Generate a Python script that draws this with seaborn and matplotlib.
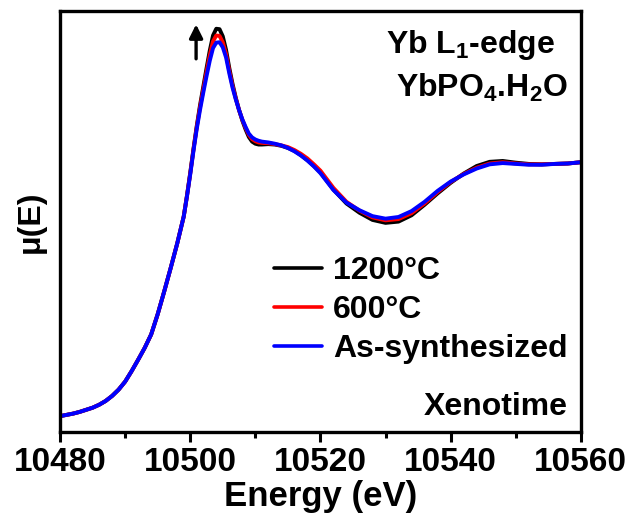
import numpy as np
import pandas as pd
import matplotlib
matplotlib.use('Agg')
import matplotlib.pyplot as plt
import seaborn as sns
from matplotlib.ticker import MultipleLocator

# energy grid (eV)
energy = [10480, 10481, 10482, 10483, 10484, 10485, 10486, 10487, 10488, 10489,
          10490, 10491, 10492, 10493, 10494, 10495, 10496, 10497, 10498, 10499,
          10499.5, 10500, 10500.5, 10501, 10501.5, 10502, 10502.5, 10503, 10503.5, 10504,
          10504.5, 10505, 10505.5, 10506, 10506.5, 10507, 10507.5, 10508, 10508.5, 10509,
          10509.5, 10510, 10510.5, 10511,
          10512, 10513, 10514, 10515, 10516, 10517, 10518, 10519, 10520,
          10522, 10524, 10526, 10528, 10530, 10532, 10534, 10536, 10538, 10540,
          10542, 10544, 10546, 10548, 10550, 10552, 10554, 10556, 10558, 10560]

mu_as_synth = [0.038, 0.041, 0.044, 0.048, 0.053, 0.058, 0.065, 0.074, 0.086, 0.101,
               0.120, 0.145, 0.172, 0.200, 0.232, 0.280, 0.334, 0.390, 0.448, 0.512,
               0.560, 0.612, 0.668, 0.720, 0.765, 0.806, 0.845, 0.882, 0.912, 0.925,
               0.926, 0.914, 0.890, 0.852, 0.818, 0.790, 0.765, 0.743, 0.725, 0.709,
               0.700, 0.695, 0.692, 0.690,
               0.688, 0.685, 0.681, 0.675, 0.667, 0.657, 0.645, 0.631, 0.615,
               0.575, 0.545, 0.527, 0.513, 0.507, 0.511, 0.525, 0.547, 0.573, 0.595,
               0.612, 0.626, 0.636, 0.639, 0.637, 0.635, 0.635, 0.637, 0.638, 0.641]

mu_600 = [0.038, 0.041, 0.044, 0.048, 0.053, 0.058, 0.065, 0.074, 0.086, 0.101,
          0.120, 0.145, 0.172, 0.200, 0.232, 0.280, 0.334, 0.390, 0.448, 0.512,
          0.561, 0.614, 0.671, 0.724, 0.771, 0.813, 0.855, 0.895, 0.928, 0.942,
          0.941, 0.926, 0.898, 0.858, 0.822, 0.792, 0.765, 0.742, 0.723, 0.706,
          0.696, 0.691, 0.688, 0.687,
          0.686, 0.684, 0.681, 0.677, 0.670, 0.661, 0.650, 0.636, 0.621,
          0.580, 0.547, 0.526, 0.510, 0.503, 0.506, 0.520, 0.543, 0.570, 0.594,
          0.613, 0.628, 0.638, 0.641, 0.638, 0.636, 0.636, 0.637, 0.638, 0.641]

mu_1200 = [0.038, 0.041, 0.044, 0.048, 0.053, 0.058, 0.065, 0.074, 0.086, 0.101,
           0.120, 0.145, 0.172, 0.200, 0.232, 0.280, 0.334, 0.390, 0.448, 0.512,
           0.562, 0.616, 0.673, 0.727, 0.776, 0.820, 0.864, 0.906, 0.942, 0.958,
           0.957, 0.940, 0.908, 0.865, 0.827, 0.794, 0.765, 0.740, 0.719, 0.701,
           0.690, 0.685, 0.683, 0.683,
           0.684, 0.683, 0.680, 0.675, 0.668, 0.658, 0.646, 0.632, 0.617,
           0.576, 0.543, 0.521, 0.504, 0.497, 0.500, 0.515, 0.540, 0.567, 0.592,
           0.614, 0.632, 0.642, 0.644, 0.640, 0.637, 0.636, 0.637, 0.638, 0.641]

samples = ['1200°C', '600°C', 'As-synthesized']
colors = ['black', 'red', 'blue']

df = pd.concat([
    pd.DataFrame({'E': energy, 'mu': mu_1200, 'sample': samples[0]}),
    pd.DataFrame({'E': energy, 'mu': mu_600, 'sample': samples[1]}),
    pd.DataFrame({'E': energy, 'mu': mu_as_synth, 'sample': samples[2]}),
])

sns.set_style('ticks')
plt.rcParams['font.family'] = ['Liberation Sans', 'DejaVu Sans']
plt.rcParams['font.weight'] = 'bold'
plt.rcParams['axes.labelweight'] = 'bold'
plt.rcParams['text.color'] = 'black'
plt.rcParams['axes.labelcolor'] = 'black'
plt.rcParams['xtick.color'] = 'black'
plt.rcParams['axes.edgecolor'] = 'black'
plt.rcParams['mathtext.fontset'] = 'custom'
plt.rcParams['mathtext.rm'] = 'Liberation Sans:bold'
plt.rcParams['mathtext.bf'] = 'Liberation Sans:bold'
plt.rcParams['mathtext.it'] = 'Liberation Sans:bold'

fig = plt.figure(figsize=(6.32, 5.27), dpi=100)
ax = fig.add_axes([0.095, 0.180, 0.824, 0.799])

sns.lineplot(data=df, x='E', y='mu', hue='sample', hue_order=samples,
             palette=colors, linewidth=2.8, ax=ax, sort=False)
for ln in ax.get_lines():
    ln.set_solid_joinstyle('round')
    ln.set_solid_capstyle('round')

ax.set_xlim(10480, 10560)
ax.set_ylim(0, 1)
ax.xaxis.set_major_locator(MultipleLocator(20))
ax.xaxis.set_minor_locator(MultipleLocator(10))
ax.set_yticks([])
ax.tick_params(axis='x', which='major', direction='out', length=7, width=2.2,
               labelsize=24, pad=4, colors='black')
ax.tick_params(axis='x', which='minor', direction='out', length=4, width=2.2)
for s in ax.spines.values():
    s.set_linewidth(2.4)
    s.set_color('black')
    s.set_visible(True)

ax.set_xlabel('Energy (eV)', fontsize=25, fontweight='bold', labelpad=1)
ax.set_ylabel('μ(E)', fontsize=23, fontweight='bold', labelpad=10)

leg = ax.legend(loc='center right', bbox_to_anchor=(0.975, 0.29), frameon=False,
                fontsize=23, handlelength=1.5, handletextpad=0.35,
                labelspacing=0.28, borderaxespad=0, borderpad=0)
for line in leg.get_lines():
    line.set_linewidth(2.6)

ax.text(0.950, 0.919, 'Yb L$_1$-edge', transform=ax.transAxes, ha='right',
        va='center', fontsize=23, fontweight='bold')
ax.text(0.975, 0.817, 'YbPO$_4$.H$_2$O', transform=ax.transAxes, ha='right',
        va='center', fontsize=23, fontweight='bold')
ax.text(0.975, 0.059, 'Xenotime', transform=ax.transAxes, ha='right',
        va='center', fontsize=23, fontweight='bold')

ax.annotate('', xy=(10500.9, 0.975), xytext=(10500.9, 0.88),
            arrowprops=dict(arrowstyle='-|>', color='black', lw=2.4,
                            mutation_scale=20))

fig.savefig('out.png', dpi=100)
